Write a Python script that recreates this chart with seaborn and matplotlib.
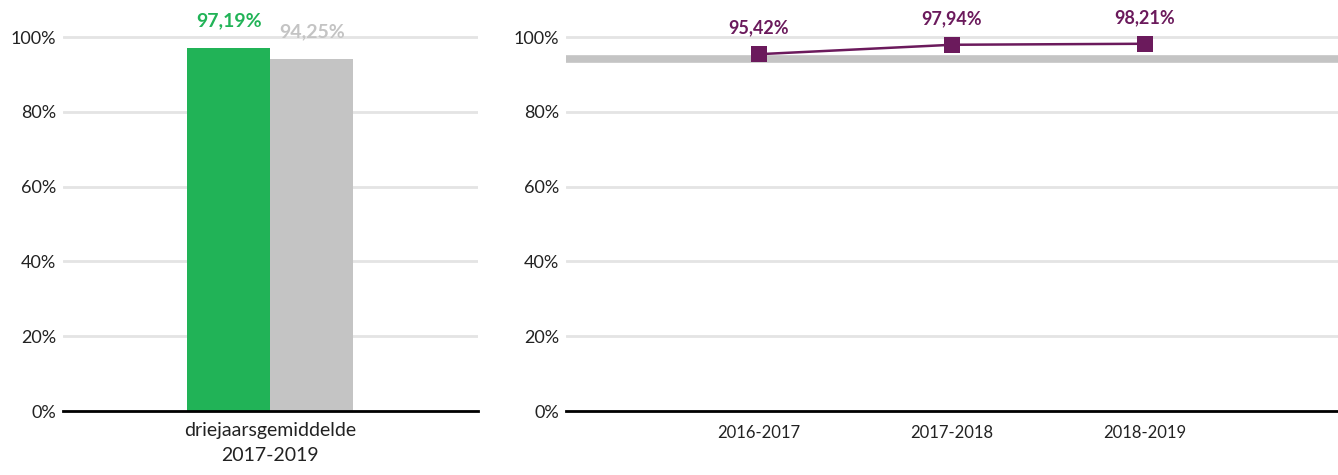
import matplotlib.pyplot as plt
import pandas as pd
import seaborn as sns
from matplotlib.ticker import FuncFormatter

# data
bar_categories = ["driejaarsgemiddelde\n2017-2019"]
bar_groups = ["school", "benchmark"]
bar_values = [0.9719, 0.9425]
years = ["2016-2017", "2017-2018", "2018-2019"]
year_values = [0.9542, 0.9794, 0.9821]
benchmark = 0.9425
y_ticks = [0, 0.2, 0.4, 0.6, 0.8, 1.0]

GREEN = "#21b357"
GREY = "#c4c4c4"
PURPLE = "#6b1a5c"
GRID = "#e4e4e4"


def pct(v):
    return f"{v * 100:.2f}%".replace(".", ",")


def style_axis(ax):
    ax.set_ylim(0, 1.1)
    ax.set_yticks(y_ticks)
    ax.yaxis.set_major_formatter(FuncFormatter(lambda v, _: f"{v * 100:.0f}%"))
    ax.grid(axis="y", color=GRID, linewidth=2)
    ax.grid(axis="x", visible=False)
    ax.set_axisbelow(True)
    for side in ["top", "right", "left"]:
        ax.spines[side].set_visible(False)
    ax.spines["bottom"].set_color("black")
    ax.spines["bottom"].set_linewidth(2)
    ax.spines["bottom"].set_zorder(5)
    ax.tick_params(axis="both", length=0, labelsize=13, colors="#222222")
    ax.tick_params(axis="x", pad=10)
    ax.tick_params(axis="y", pad=5)
    ax.set_xlabel("")
    ax.set_ylabel("")


def main():
    sns.set_theme(style="white")
    plt.rcParams["font.family"] = ["Lato", "DejaVu Sans"]

    fig = plt.figure(figsize=(13.38, 4.75), dpi=100)
    ax_bar = fig.add_axes([0.047, 0.1347, 0.310, 0.866])
    ax_line = fig.add_axes([0.423, 0.1347, 0.577, 0.866])

    bars = pd.DataFrame({
        "category": bar_categories * len(bar_groups),
        "group": bar_groups,
        "value": bar_values,
    })
    sns.barplot(data=bars, x="category", y="value", hue="group",
                palette=[GREEN, GREY], width=0.4, saturation=1, linewidth=0,
                legend=False, ax=ax_bar)
    ax_bar.set_xlim(-0.5, 0.5)
    style_axis(ax_bar)
    ax_bar.tick_params(axis="x", labelsize=14, pad=8)
    for label in ax_bar.get_xticklabels():
        label.set_linespacing(1.55)
    for container, color in zip(ax_bar.containers, [GREEN, GREY]):
        for patch in container:
            ax_bar.annotate(pct(patch.get_height()),
                            (patch.get_x() + patch.get_width() / 2, patch.get_height()),
                            xytext=(0, 19), textcoords="offset points",
                            ha="center", va="center", fontsize=14,
                            fontweight="bold", color=color)

    line = pd.DataFrame({"year": years, "value": year_values})
    ax_line.axhline(benchmark, color=GREY, linewidth=5.5, zorder=1)
    sns.lineplot(data=line, x="year", y="value", color=PURPLE, marker="s",
                 markersize=11, markeredgewidth=0, linewidth=1.8, ax=ax_line,
                 zorder=3)
    ax_line.set_xlim(-1, 3)
    style_axis(ax_line)
    ax_line.tick_params(axis="x", labelsize=12)
    for i, v in enumerate(year_values):
        ax_line.annotate(pct(v), (i, v), xytext=(0, 19), textcoords="offset points",
                         ha="center", va="center", fontsize=13,
                         fontweight="bold", color=PURPLE)

    fig.savefig("out.png", dpi=100)
    plt.close(fig)


if __name__ == "__main__":
    main()
